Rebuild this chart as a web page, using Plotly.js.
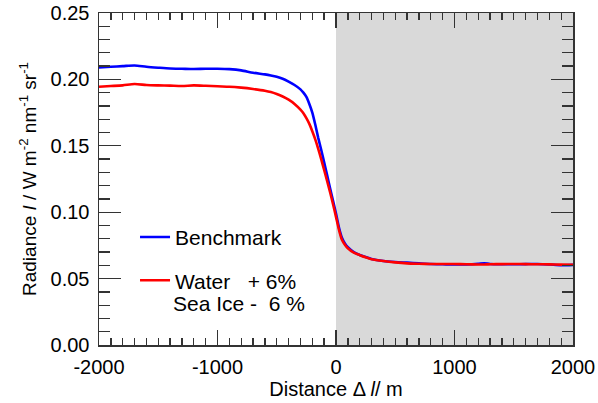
<!DOCTYPE html>
<html>
<head>
<meta charset="utf-8">
<script src="https://cdn.plot.ly/plotly-3.0.1.min.js"></script>
<style>html,body{margin:0;padding:0;background:#fff;}#chart{width:598px;height:403px;}</style>
</head>
<body>
<div id="chart"></div>
<script>
const distance = [-2000,-1900,-1800,-1700,-1600,-1500,-1400,-1300,-1200,-1100,-1000,-900,-800,-700,-600,-550,-500,-450,-400,-350,-300,-275,-250,-225,-200,-175,-150,-125,-100,-75,-50,-25,0,25,50,75,100,150,200,250,300,400,500,600,700,800,900,1000,1100,1200,1250,1300,1400,1500,1600,1700,1800,1900,2000];
const benchmark = [0.2090,0.2095,0.2100,0.2105,0.2095,0.2088,0.2082,0.2080,0.2078,0.2080,0.2080,0.2077,0.2068,0.2050,0.2038,0.2030,0.2020,0.2005,0.1983,0.1958,0.1925,0.1900,0.1868,0.1815,0.1750,0.1660,0.1560,0.1470,0.1375,0.1280,0.1180,0.1085,0.0990,0.0885,0.0808,0.0765,0.0737,0.0700,0.0678,0.0662,0.0648,0.0633,0.0625,0.0620,0.0615,0.0610,0.0608,0.0606,0.0607,0.0612,0.0616,0.0610,0.0608,0.0608,0.0609,0.0610,0.0606,0.0600,0.0603];
const waterSeaIce = [0.1945,0.1950,0.1955,0.1965,0.1958,0.1955,0.1953,0.1950,0.1955,0.1952,0.1948,0.1945,0.1938,0.1928,0.1915,0.1905,0.1890,0.1871,0.1847,0.1815,0.1772,0.1745,0.1708,0.1665,0.1610,0.1548,0.1477,0.1400,0.1318,0.1235,0.1150,0.1060,0.0965,0.0868,0.0792,0.0755,0.0728,0.0695,0.0677,0.0660,0.0646,0.0632,0.0622,0.0615,0.0612,0.0610,0.0610,0.0610,0.0608,0.0606,0.0606,0.0608,0.0609,0.0610,0.0609,0.0608,0.0607,0.0605,0.0604];
const seriesNames = ['Benchmark', 'Water\u00A0\u00A0\u00A0+ 6%'];
const legendNote = 'Sea Ice -\u00A0\u00A06 %';
const shadedRange = [0, 2000];
const xTickVals = [-2000, -1000, 0, 1000, 2000];
const xTickText = ['-2000', '-1000', '0', '1000', '2000'];
const yTickVals = [0, 0.05, 0.10, 0.15, 0.20, 0.25];
const yTickText = ['0.00', '0.05', '0.10', '0.15', '0.20', '0.25'];

const FONT = 'Liberation Sans, Arial, Helvetica, sans-serif';

const traces = [
  {x: distance, y: benchmark, name: seriesNames[0], mode: 'lines', legendgroup: 'a',
   line: {color: '#0000ff', width: 2.6, shape: 'spline', smoothing: 0.7}},
  {x: distance, y: waterSeaIce, name: seriesNames[1], mode: 'lines', legendgroup: 'b',
   line: {color: '#ff0000', width: 2.6, shape: 'spline', smoothing: 0.7}}
];

const axisCommon = {
  showgrid: false, zeroline: false, showline: true, linecolor: '#333', linewidth: 1.5,
  mirror: 'allticks', ticks: 'inside', tickcolor: '#333', tickwidth: 1.3,
  tickfont: {family: FONT, size: 20, color: '#000'}
};

const layout = {
  width: 598, height: 403,
  margin: {l: 99, r: 25, t: 13, b: 58},
  paper_bgcolor: '#fff', plot_bgcolor: '#fff',
  font: {family: FONT, color: '#000'},
  showlegend: true,
  legend: {x: 0.076, y: 0.386, xanchor: 'left', yanchor: 'top', bgcolor: 'rgba(0,0,0,0)',
           font: {family: FONT, size: 21, color: '#000'}, traceorder: 'grouped',
           tracegroupgap: 13, valign: 'top', itemwidth: 30},
  annotations: [{text: legendNote, xref: 'paper', yref: 'paper', x: 0.1517, y: 0.1265,
                 xanchor: 'left', yanchor: 'middle', showarrow: false,
                 font: {family: FONT, size: 21, color: '#000'}}],
  xaxis: Object.assign({}, axisCommon, {
    range: [-2000, 2000], tickmode: 'array', tickvals: xTickVals, ticktext: xTickText,
    ticklen: 15, ticklabelstandoff: 3,
    minor: {dtick: 100, ticklen: 7, ticks: 'inside', tickcolor: '#333', tickwidth: 1.3},
    title: {text: 'Distance \u0394 <i>l</i>/ m', font: {family: FONT, size: 20, color: '#000'}, standoff: 3}
  }),
  yaxis: Object.assign({}, axisCommon, {
    range: [0, 0.25], tickmode: 'array', tickvals: yTickVals, ticktext: yTickText,
    ticklen: 22, ticklabelstandoff: 4,
    minor: {dtick: 0.01, ticklen: 11, ticks: 'inside', tickcolor: '#333', tickwidth: 1.3},
    title: {text: 'Radiance <i>I</i> / W m<sup>-2</sup> nm<sup>-1</sup> sr<sup>-1</sup>', font: {family: FONT, size: 19, color: '#000'}, standoff: 9}
  }),
  shapes: [{type: 'rect', xref: 'x', yref: 'paper', x0: shadedRange[0], x1: shadedRange[1], y0: 0, y1: 1,
            fillcolor: '#d9d9d9', line: {width: 0}, layer: 'below'}]
};

Plotly.newPlot('chart', traces, layout, {displayModeBar: false, staticPlot: true});
</script>
</body>
</html>
